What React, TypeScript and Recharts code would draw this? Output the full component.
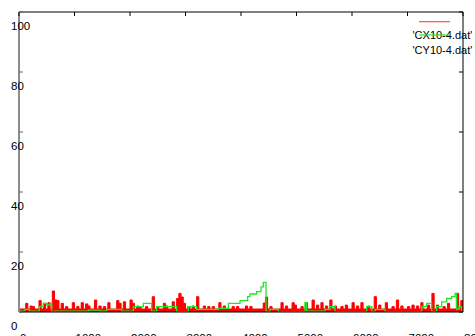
import { ComposedChart, Area, Line, XAxis, YAxis, ReferenceLine, Legend } from "recharts";

const W = 475;
const H = 336;
const LEFT = 19;
const RIGHT = 463;
const TOP = 12;
const FONT = "'Liberation Sans', Arial, sans-serif";

const xTicks = [0, 1000, 2000, 3000, 4000, 5000, 6000, 7000, 8000];
const yTicks = [0, 20, 40, 60, 80, 100];
const seriesNames = ["'CX10-4.dat'", "'CY10-4.dat'"];

// CX10-4.dat, one sample every 40 steps
const RED_STEP = 40;
const redValues = [
  1, 1, 1, 2.9, 1, 2, 1.8, 1, 1, 3.8, 1, 2.9, 1, 3.1, 1, 7, 4, 3.8, 1, 2.9,
  1, 1.8, 1, 1, 3.1, 1, 1.8, 1, 3.1, 1, 2.7, 2, 1, 1, 4, 1, 2, 1, 1.8, 1,
  3.1, 1, 1, 1, 3.8, 2.9, 1, 3.4, 1, 1, 4, 2.9, 1, 2, 1.8, 1, 1, 1.8, 1, 1,
  5.1, 1, 1.8, 1, 1, 2.9, 2, 1, 1, 3.4, 1, 4.5, 6.2, 5, 2.9, 1, 1.8, 1, 2, 1,
  5.1, 1, 1, 2, 1, 1.8, 1, 1.8, 1, 1, 3.1, 1, 2, 1, 1, 1, 1.8, 1, 1.8, 1,
  1, 1, 2, 1, 1.8, 1, 1, 1, 1, 1, 3, 5, 1, 1.8, 1, 1, 1, 1, 3.1, 1,
  2, 1, 1, 3.1, 2.3, 1, 1, 1.8, 1, 3.1, 1, 1, 4, 1, 2.3, 1, 3.1, 1, 2, 1,
  4, 1, 2, 1, 1, 1.8, 1, 2.3, 1, 1, 3.1, 1, 2, 1, 3.1, 1, 1, 2, 1, 1,
  5.1, 1, 2.3, 1, 1, 3.1, 1, 1, 1.8, 1, 4, 1, 2, 1, 1, 1.8, 1, 2.3, 1, 2,
  1, 3.1, 1, 1, 2.3, 1, 6.2, 1, 2.3, 1, 1, 1.8, 1, 2.9, 1, 1, 1, 6.2, 1, 3.8,
  1,
];

// CY10-4.dat, step changes
const greenX = [
  0, 108, 186, 366, 438, 499, 559, 589, 649, 1249, 1460, 1580, 1850, 2060, 2240, 2390, 2480, 2841,
  3051, 3201, 3592, 3772, 3982, 4120, 4162, 4282, 4360, 4403, 4451, 4523, 4673, 5153, 5183, 5514,
  5604, 5694, 6265, 6355, 6415, 6595, 7256, 7346, 7436, 7526, 7616, 7706, 7796, 7856, 7886, 7928,
  7976, 8000,
];
const greenY = [
  0.3, 0.9, 0.3, 1.8, 2.9, 2.4, 2.9, 0.1, 0.3, 0.6, 0.3, 0.9, 0.3, 1.8, 2.9, 0.3, 1.8, 0.1,
  1.8, 0.9, 1.2, 2.9, 3.8, 5.1, 6, 6.8, 8.4, 9.9, 0.1, 0.9, 0.1, 3.1, 0.3, 0.9,
  1.8, 0.1, 1.8, 0.1, 0.9, 0.1, 1.8, 2.9, 0.1, 1.8, 3.4, 4.5, 5.1, 6.2, 0.9, 1.8,
  0.1, 0.1,
];

const redData = redValues.map((y, i) => ({ x: i * RED_STEP, y }));
const greenData = greenX.map((x, i) => ({ x, y: greenY[i] }));

const XTick = ({ x, payload }: any) => (
  <g>
    <line x1={x} x2={x} y1={TOP} y2={TOP + 4} stroke="#000" />
    <text x={x + 1} y={342} fontSize={11.5} fontFamily={FONT} fill="#000" textAnchor="start">
      {payload.value}
    </text>
  </g>
);

const YTick = ({ y, payload }: any) => (
  <g>
    <line x1={LEFT} x2={LEFT + 4} y1={y} y2={y} stroke="#666" />
    <line x1={RIGHT - 4} x2={RIGHT} y1={y} y2={y} stroke="#000" />
    <text x={11} y={y + 18} fontSize={11.5} fontFamily={FONT} fill="#000" textAnchor="start">
      {payload.value}
    </text>
  </g>
);

const lineYs = [21.7, 35];
const textYs = [39, 54];

const renderLegend = (props: any) => {
  const payload = props.payload || [];
  return (
    <svg width={W} height={60} style={{ display: "block" }}>
      {payload.map((p: any, i: number) => (
        <g key={i}>
          <line x1={419} x2={450} y1={lineYs[i]} y2={lineYs[i]} stroke={p.color} strokeWidth={1.2} strokeOpacity={i === 0 ? 0.7 : 1} />
          <text x={412.5} y={textYs[i]} fontSize={11} fontFamily={FONT} fill="#000">
            {p.value}
          </text>
        </g>
      ))}
    </svg>
  );
};

export default function App() {
  return (
    <div style={{ position: "absolute", left: 0, top: 0, width: W, height: H, background: "#fff" }}>
      <ComposedChart width={W} height={H} margin={{ top: TOP, right: W - RIGHT, bottom: 23, left: LEFT - 1 }}>
        <XAxis
          type="number"
          dataKey="x"
          domain={[0, 8000]}
          ticks={xTicks}
          interval={0}
          height={1}
          tickLine={false}
          axisLine={false}
          tick={<XTick />}
          allowDataOverflow
        />
        <YAxis
          type="number"
          domain={[0, 100]}
          ticks={yTicks}
          interval={0}
          width={1}
          tickLine={false}
          axisLine={false}
          tick={<YTick />}
          allowDataOverflow
        />
        <Area
          data={redData}
          dataKey="y"
          name={seriesNames[0]}
          type="stepAfter"
          stroke="#ff0000"
          strokeWidth={1}
          fill="#ff0000"
          fillOpacity={1}
          baseValue={0}
          dot={false}
          activeDot={false}
          isAnimationActive={false}
        />
        <Line
          data={greenData}
          dataKey="y"
          name={seriesNames[1]}
          type="stepAfter"
          stroke="#22e622"
          strokeWidth={1.3}
          dot={false}
          activeDot={false}
          isAnimationActive={false}
        />
        <ReferenceLine y={100} stroke="#000" strokeWidth={1} />
        <ReferenceLine x={8000} stroke="#000" strokeWidth={1} />
        <ReferenceLine y={0} stroke="#000" strokeWidth={1} />
        <ReferenceLine x={0} stroke="#8c8c8c" strokeWidth={2} />
        <Legend
          layout="vertical"
          align="center"
          verticalAlign="middle"
          content={renderLegend}
          wrapperStyle={{ top: 0, left: 0, width: W, height: 60 }}
        />
      </ComposedChart>
    </div>
  );
}
